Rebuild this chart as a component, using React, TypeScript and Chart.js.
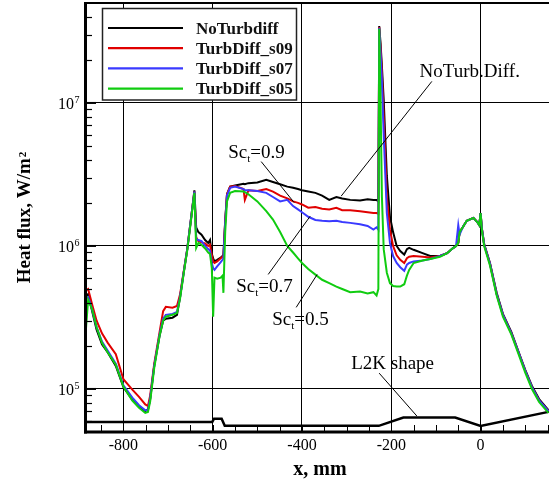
import React, { useEffect, useRef } from "react";
import { Chart, registerables } from "chart.js";
Chart.register(...registerables);

// ---- data (x in mm, heat flux in W/m^2) ----
const xPos = [
  -884, -879, -870, -860, -848, -835, -817, -800, -780, -765, -751, -745, -740, -731, -719, -711, -705, -690, -680, -673,
  -665, -657, -646, -641, -637, -632, -625, -617, -610, -606, -602, -599, -596, -590, -582, -578, -576, -572, -568, -561,
  -550, -531, -528, -520, -500, -480, -465, -449, -433, -420, -409, -400, -386, -370, -355, -339, -323, -310, -292, -270,
  -253, -240, -233, -229, -227, -224, -221, -217, -210, -203, -196, -188, -180, -171, -165, -160, -150, -130, -113, -91,
  -75, -61, -55, -50, -47, -40, -31, -16, -6, -3, 0, 3, 8, 21, 36, 50, 69, 85, 100, 115, 131, 152,
];
const noTurbDiff = [
  4.5e5, 4.6e5, 3.5e5, 2.6e5, 2.05e5, 1.8e5, 1.45e5, 1.03e5, 8.4e4, 7.5e4, 7.0e4, 7.2e4, 8.5e4, 1.45e5, 2.35e5, 3.0e5, 3.1e5, 3.15e5, 3.3e5, 4.4e5,
  6.5e5, 9.5e5, 1.8e6, 2.45e6, 1.35e6, 1.25e6, 1.2e6, 1.1e6, 1.05e6, 1.1e6, 8.8e5, 8.2e5, 7.8e5, 8.0e5, 8.3e5, 8.5e5, 8.7e5, 1.5e6, 2.3e6, 2.6e6,
  2.65e6, 2.72e6, 2.7e6, 2.75e6, 2.78e6, 2.9e6, 2.8e6, 2.7e6, 2.6e6, 2.55e6, 2.5e6, 2.45e6, 2.4e6, 2.35e6, 2.25e6, 2.1e6, 2.2e6, 2.15e6, 2.1e6, 2.08e6,
  2.12e6, 2.1e6, 2.1e6, 2.05e6, 3.45e7, 2.6e7, 1.8e7, 1.05e7, 3.1e6, 1.6e6, 1.25e6, 1.0e6, 9.2e5, 8.7e5, 9.5e5, 9.7e5, 9.4e5, 8.9e5, 8.5e5, 8.5e5,
  8.9e5, 9.7e5, 1.0e6, 1.05e6, 1.25e6, 1.35e6, 1.5e6, 1.57e6, 1.45e6, 1.4e6, 1.7e6, 1.32e6, 1.03e6, 7.6e5, 4.7e5, 3.35e5, 2.5e5, 1.82e5, 1.36e5, 1.05e5, 8.5e4, 7.1e4,
];
const turbDiffS09 = [
  4.9e5, 5.0e5, 3.9e5, 3.0e5, 2.45e5, 2.1e5, 1.75e5, 1.17e5, 9.9e4, 8.8e4, 7.8e4, 7.6e4, 9.0e4, 1.5e5, 2.5e5, 3.5e5, 3.75e5, 3.7e5, 3.8e5, 4.6e5,
  6.6e5, 9.5e5, 1.8e6, 2.4e6, 1.15e6, 1.08e6, 1.06e6, 1.04e6, 1.0e6, 1.02e6, 8.6e5, 7.8e5, 7.6e5, 7.8e5, 8.2e5, 8.4e5, 8.5e5, 1.5e6, 2.3e6, 2.6e6,
  2.62e6, 2.5e6, 2.1e6, 2.45e6, 2.42e6, 2.5e6, 2.4e6, 2.25e6, 2.15e6, 2.05e6, 2.0e6, 1.95e6, 1.85e6, 1.87e6, 1.82e6, 1.8e6, 1.85e6, 1.78e6, 1.78e6, 1.75e6,
  1.72e6, 1.7e6, 1.7e6, 1.68e6, 3.4e7, 2.4e7, 1.6e7, 8.0e6, 2.2e6, 1.3e6, 1.0e6, 8.6e5, 8.0e5, 7.6e5, 8.2e5, 8.4e5, 8.5e5, 8.4e5, 8.3e5, 8.5e5,
  8.9e5, 9.7e5, 1.0e6, 1.05e6, 1.25e6, 1.35e6, 1.5e6, 1.57e6, 1.45e6, 1.4e6, 1.7e6, 1.31e6, 1.02e6, 7.5e5, 4.6e5, 3.3e5, 2.45e5, 1.8e5, 1.34e5, 1.03e5, 8.3e4, 7.0e4,
];
const turbDiffS07 = [
  4.3e5, 4.4e5, 3.6e5, 2.7e5, 2.15e5, 1.85e5, 1.5e5, 1.06e5, 8.7e4, 7.7e4, 7.1e4, 7.1e4, 8.6e4, 1.45e5, 2.4e5, 3.1e5, 3.3e5, 3.35e5, 3.45e5, 4.4e5,
  6.5e5, 9.5e5, 1.8e6, 2.4e6, 1.12e6, 1.1e6, 1.08e6, 1.0e6, 9.5e5, 9.3e5, 7.6e5, 7.0e5, 6.8e5, 7.2e5, 7.7e5, 8.0e5, 8.2e5, 1.45e6, 2.25e6, 2.55e6,
  2.6e6, 2.5e6, 2.45e6, 2.45e6, 2.42e6, 2.35e6, 2.2e6, 2.05e6, 2.1e6, 1.9e6, 1.8e6, 1.72e6, 1.6e6, 1.52e6, 1.5e6, 1.49e6, 1.5e6, 1.47e6, 1.45e6, 1.42e6,
  1.38e6, 1.3e6, 1.35e6, 1.3e6, 3.35e7, 2.2e7, 1.4e7, 6.0e6, 1.7e6, 1.05e6, 8.5e5, 7.6e5, 7.1e5, 6.7e5, 7.4e5, 7.6e5, 7.8e5, 7.9e5, 8.1e5, 8.5e5,
  8.9e5, 9.7e5, 1.0e6, 1.4e6, 1.2e6, 1.35e6, 1.5e6, 1.57e6, 1.45e6, 1.4e6, 1.7e6, 1.31e6, 1.02e6, 7.5e5, 4.6e5, 3.3e5, 2.45e5, 1.8e5, 1.34e5, 1.03e5, 8.3e4, 7.0e4,
];
const turbDiffS05 = [
  2.6e5, 4.2e5, 3.6e5, 2.7e5, 2.1e5, 1.8e5, 1.48e5, 1.04e5, 8.3e4, 7.4e4, 6.8e4, 6.9e4, 8.2e4, 1.4e5, 2.35e5, 3.0e5, 3.2e5, 3.3e5, 3.4e5, 4.3e5,
  6.4e5, 9.3e5, 1.75e6, 2.35e6, 9.7e5, 1.05e6, 1.02e6, 9.6e5, 9.0e5, 8.8e5, 7.0e5, 3.2e5, 6.0e5, 5.9e5, 6.0e5, 6.2e5, 4.7e5, 1.25e6, 2.05e6, 2.35e6,
  2.42e6, 2.4e6, 2.38e6, 2.3e6, 2.05e6, 1.75e6, 1.53e6, 1.25e6, 1.0e6, 9.0e5, 8.2e5, 7.6e5, 6.9e5, 6.3e5, 5.8e5, 5.5e5, 5.2e5, 5.0e5, 4.75e5, 4.8e5,
  4.65e5, 4.75e5, 4.5e5, 5.0e5, 3.3e7, 1.0e7, 2.2e6, 9.5e5, 6.5e5, 5.5e5, 5.25e5, 5.2e5, 5.2e5, 5.4e5, 6.2e5, 6.8e5, 7.6e5, 7.9e5, 8.1e5, 8.4e5,
  8.9e5, 9.7e5, 1.0e6, 1.05e6, 1.25e6, 1.35e6, 1.5e6, 1.57e6, 1.45e6, 1.4e6, 1.7e6, 1.28e6, 1.0e6, 7.3e5, 4.5e5, 3.2e5, 2.4e5, 1.75e5, 1.3e5, 1.0e5, 8.1e4, 6.8e4,
];
// L2K model contour (drawn at the bottom, in plot units)
const shapeX = [-886, -601, -597, -580, -573, -228, -173, -57, 0, 160];
const shapeY = [5.88e4, 5.88e4, 6.2e4, 6.2e4, 5.52e4, 5.52e4, 6.31e4, 6.31e4, 5.52e4, 7.0e4];

const seriesNames = ["NoTurbdiff", "TurbDiff_s09", "TurbDiff_s07", "TurbDiff_s05"];
const seriesValues = [noTurbDiff, turbDiffS09, turbDiffS07, turbDiffS05];
const seriesColors = ["#000000", "#e00000", "#3a3aff", "#10cc10"];

const xTicks = [-800, -600, -400, -200, 0];
const xTickLabels = ["-800", "-600", "-400", "-200", "0"];
const yTicks = [1e5, 1e6, 1e7];
const yTickExponents = ["5", "6", "7"];

// text annotations: anchor in data units
const notes = [
  { main: "NoTurb.Diff.", sub: "", tail: "", x: -136.6, y: 1.53e7 },
  { main: "Sc", sub: "t", tail: "=0.9", x: -565.3, y: 4.13e6 },
  { main: "Sc", sub: "t", tail: "=0.7", x: -547.3, y: 4.78e5 },
  { main: "Sc", sub: "t", tail: "=0.5", x: -466.8, y: 2.79e5 },
  { main: "L2K shape", sub: "", tail: "", x: -289.9, y: 1.37e5 },
];
const leaders = [
  [-109.2, 1.415e7, -312.3, 2.23e6],
  [-491.4, 3.89e6, -417.5, 2.01e6],
  [-475.7, 6.32e5, -381.7, 1.614e6],
  [-413.0, 3.72e5, -366.0, 6.32e5],
  [-227.2, 1.29e5, -142.8, 6.47e4],
];

const SERIF = "'Liberation Serif', 'Times New Roman', serif";

const overlay = {
  id: "overlay",
  afterDatasetsDraw(chart: any) {
    const ctx = chart.ctx;
    const xs = chart.scales.x;
    const ys = chart.scales.y;
    ctx.save();
    ctx.strokeStyle = "#000";
    ctx.lineWidth = 1;
    leaders.forEach(([x1, y1, x2, y2]) => {
      ctx.beginPath();
      ctx.moveTo(xs.getPixelForValue(x1), ys.getPixelForValue(y1));
      ctx.lineTo(xs.getPixelForValue(x2), ys.getPixelForValue(y2));
      ctx.stroke();
    });
    ctx.fillStyle = "#000";
    ctx.textBaseline = "alphabetic";
    ctx.textAlign = "left";
    notes.forEach((n) => {
      let px = xs.getPixelForValue(n.x);
      const py = ys.getPixelForValue(n.y);
      ctx.font = `19px ${SERIF}`;
      ctx.fillText(n.main, px, py);
      px += ctx.measureText(n.main).width;
      if (n.sub) {
        ctx.font = `11px ${SERIF}`;
        ctx.fillText(n.sub, px, py + 4);
        px += ctx.measureText(n.sub).width;
        ctx.font = `19px ${SERIF}`;
        ctx.fillText(n.tail, px, py);
      }
    });
    ctx.restore();
  },
  afterDraw(chart: any) {
    const ctx = chart.ctx;
    const xs = chart.scales.x;
    const ys = chart.scales.y;
    const ca = chart.chartArea;
    ctx.save();
    ctx.strokeStyle = "#000";
    const seg = (x1: number, y1: number, x2: number, y2: number, w: number) => {
      ctx.lineWidth = w;
      ctx.beginPath();
      ctx.moveTo(x1, y1);
      ctx.lineTo(x2, y2);
      ctx.stroke();
    };
    // minor y ticks (inside)
    for (let e = 4; e <= 7; e++) {
      for (let m = 2; m <= 9; m++) {
        const v = m * Math.pow(10, e);
        if (v <= ys.min || v >= ys.max) continue;
        const py = Math.round(ys.getPixelForValue(v)) + 0.5;
        seg(ca.left, py, ca.left + 7, py, 1.2);
      }
    }
    yTicks.forEach((v) => {
      const py = ys.getPixelForValue(v);
      seg(ca.left, py, ca.left + 11, py, 2);
    });
    // minor x ticks (inside)
    for (let v = -850; v <= 150; v += 50) {
      if (v < xs.min || v > xs.max) continue;
      const px = Math.round(xs.getPixelForValue(v)) + 0.5;
      seg(px, ca.bottom, px, ca.bottom - 7, 1);
    }
    // frame
    seg(ca.left + 0.5, ca.top - 1, ca.left + 0.5, ca.bottom + 1.5, 3);
    seg(ca.left - 1, ca.bottom, ca.right + 5, ca.bottom, 3);
    seg(ca.left, ca.top, ca.right + 5, ca.top, 2);

    // tick labels
    ctx.fillStyle = "#000";
    ctx.textBaseline = "alphabetic";
    ctx.font = `16px ${SERIF}`;
    ctx.textAlign = "center";
    xTicks.forEach((v, i) => {
      ctx.fillText(xTickLabels[i], xs.getPixelForValue(v), ca.bottom + 17.5);
    });
    yTicks.forEach((v, i) => {
      const py = ys.getPixelForValue(v);
      ctx.font = `16px ${SERIF}`;
      ctx.textAlign = "right";
      ctx.fillText("10", ca.left - 11, py + 6);
      ctx.font = `10px ${SERIF}`;
      ctx.textAlign = "left";
      ctx.fillText(yTickExponents[i], ca.left - 10.5, py + 0.5);
    });

    // axis titles
    ctx.font = `bold 20px ${SERIF}`;
    ctx.textAlign = "center";
    ctx.fillText("x, mm", 320, 474.5);

    ctx.save();
    const yMain = "Heat flux, W/m";
    ctx.font = `bold 19px ${SERIF}`;
    const wMain = ctx.measureText(yMain).width;
    ctx.font = `bold 11px ${SERIF}`;
    const wSup = ctx.measureText("2").width;
    const total = wMain + wSup + 1;
    const cy = (ca.top + ca.bottom) / 2;
    ctx.translate(29.5, cy + total / 2);
    ctx.rotate(-Math.PI / 2);
    ctx.textAlign = "left";
    ctx.font = `bold 19px ${SERIF}`;
    ctx.fillText(yMain, 0, 0);
    ctx.font = `bold 11px ${SERIF}`;
    ctx.fillText("2", wMain + 1, -4);
    ctx.restore();

    // legend
    const bx = 102.5, by = 8.5, bw = 194, bh = 91.5;
    ctx.fillStyle = "#fff";
    ctx.fillRect(bx, by, bw, bh);
    ctx.strokeStyle = "#222";
    ctx.lineWidth = 1.5;
    ctx.strokeRect(bx, by, bw, bh);
    seriesNames.forEach((name, i) => {
      const ly = 28 + 20.2 * i;
      ctx.strokeStyle = seriesColors[i];
      seg(108, ly, 183, ly, 2.2);
      ctx.fillStyle = "#111";
      ctx.font = `bold 17px ${SERIF}`;
      ctx.textAlign = "left";
      ctx.fillText(name, 196, ly + 5.7);
    });
    ctx.restore();
  },
};

export default function App() {
  const ref = useRef<HTMLCanvasElement | null>(null);
  useEffect(() => {
    if (!ref.current) return;
    const datasets: any[] = seriesNames.map((name, i) => ({
      label: name,
      data: xPos.map((x, j) => ({ x, y: seriesValues[i][j] })),
      borderColor: seriesColors[i],
      backgroundColor: seriesColors[i],
      borderWidth: 2,
      pointRadius: 0,
      tension: 0,
      fill: false,
      order: 4 - i,
    }));
    datasets.push({
      label: "L2K shape",
      data: shapeX.map((x, j) => ({ x, y: shapeY[j] })),
      borderColor: "#000",
      borderWidth: 2.5,
      pointRadius: 0,
      tension: 0,
      fill: false,
      order: 5,
    });
    const chart = new Chart(ref.current, {
      type: "line",
      data: { datasets },
      options: {
        animation: false,
        responsive: false,
        devicePixelRatio: 1,
        layout: { padding: { left: 85, top: 3, bottom: 49, right: 8.5 } },
        plugins: { legend: { display: false }, tooltip: { enabled: false }, title: { display: false } },
        scales: {
          x: {
            type: "linear",
            min: -886,
            max: 170,
            ticks: { display: false },
            grid: { color: "#000", lineWidth: 1, drawTicks: false },
            border: { display: false },
            afterBuildTicks: (s: any) => {
              s.ticks = xTicks.map((v) => ({ value: v }));
            },
            afterFit: (s: any) => {
              s.height = 0;
            },
          },
          y: {
            type: "logarithmic",
            min: 5e4,
            max: 5e7,
            ticks: { display: false },
            grid: { color: "#000", lineWidth: 1, drawTicks: false },
            border: { display: false },
            afterBuildTicks: (s: any) => {
              s.ticks = yTicks.map((v) => ({ value: v }));
            },
            afterFit: (s: any) => {
              s.width = 0;
            },
          },
        },
      },
      plugins: [overlay],
    });
    return () => chart.destroy();
  }, []);
  return (
    <div style={{ position: "absolute", left: 0, top: 0, width: 549, height: 481, overflow: "hidden", background: "#fff" }}>
      <canvas ref={ref} width={565} height={481} style={{ display: "block" }} />
    </div>
  );
}
